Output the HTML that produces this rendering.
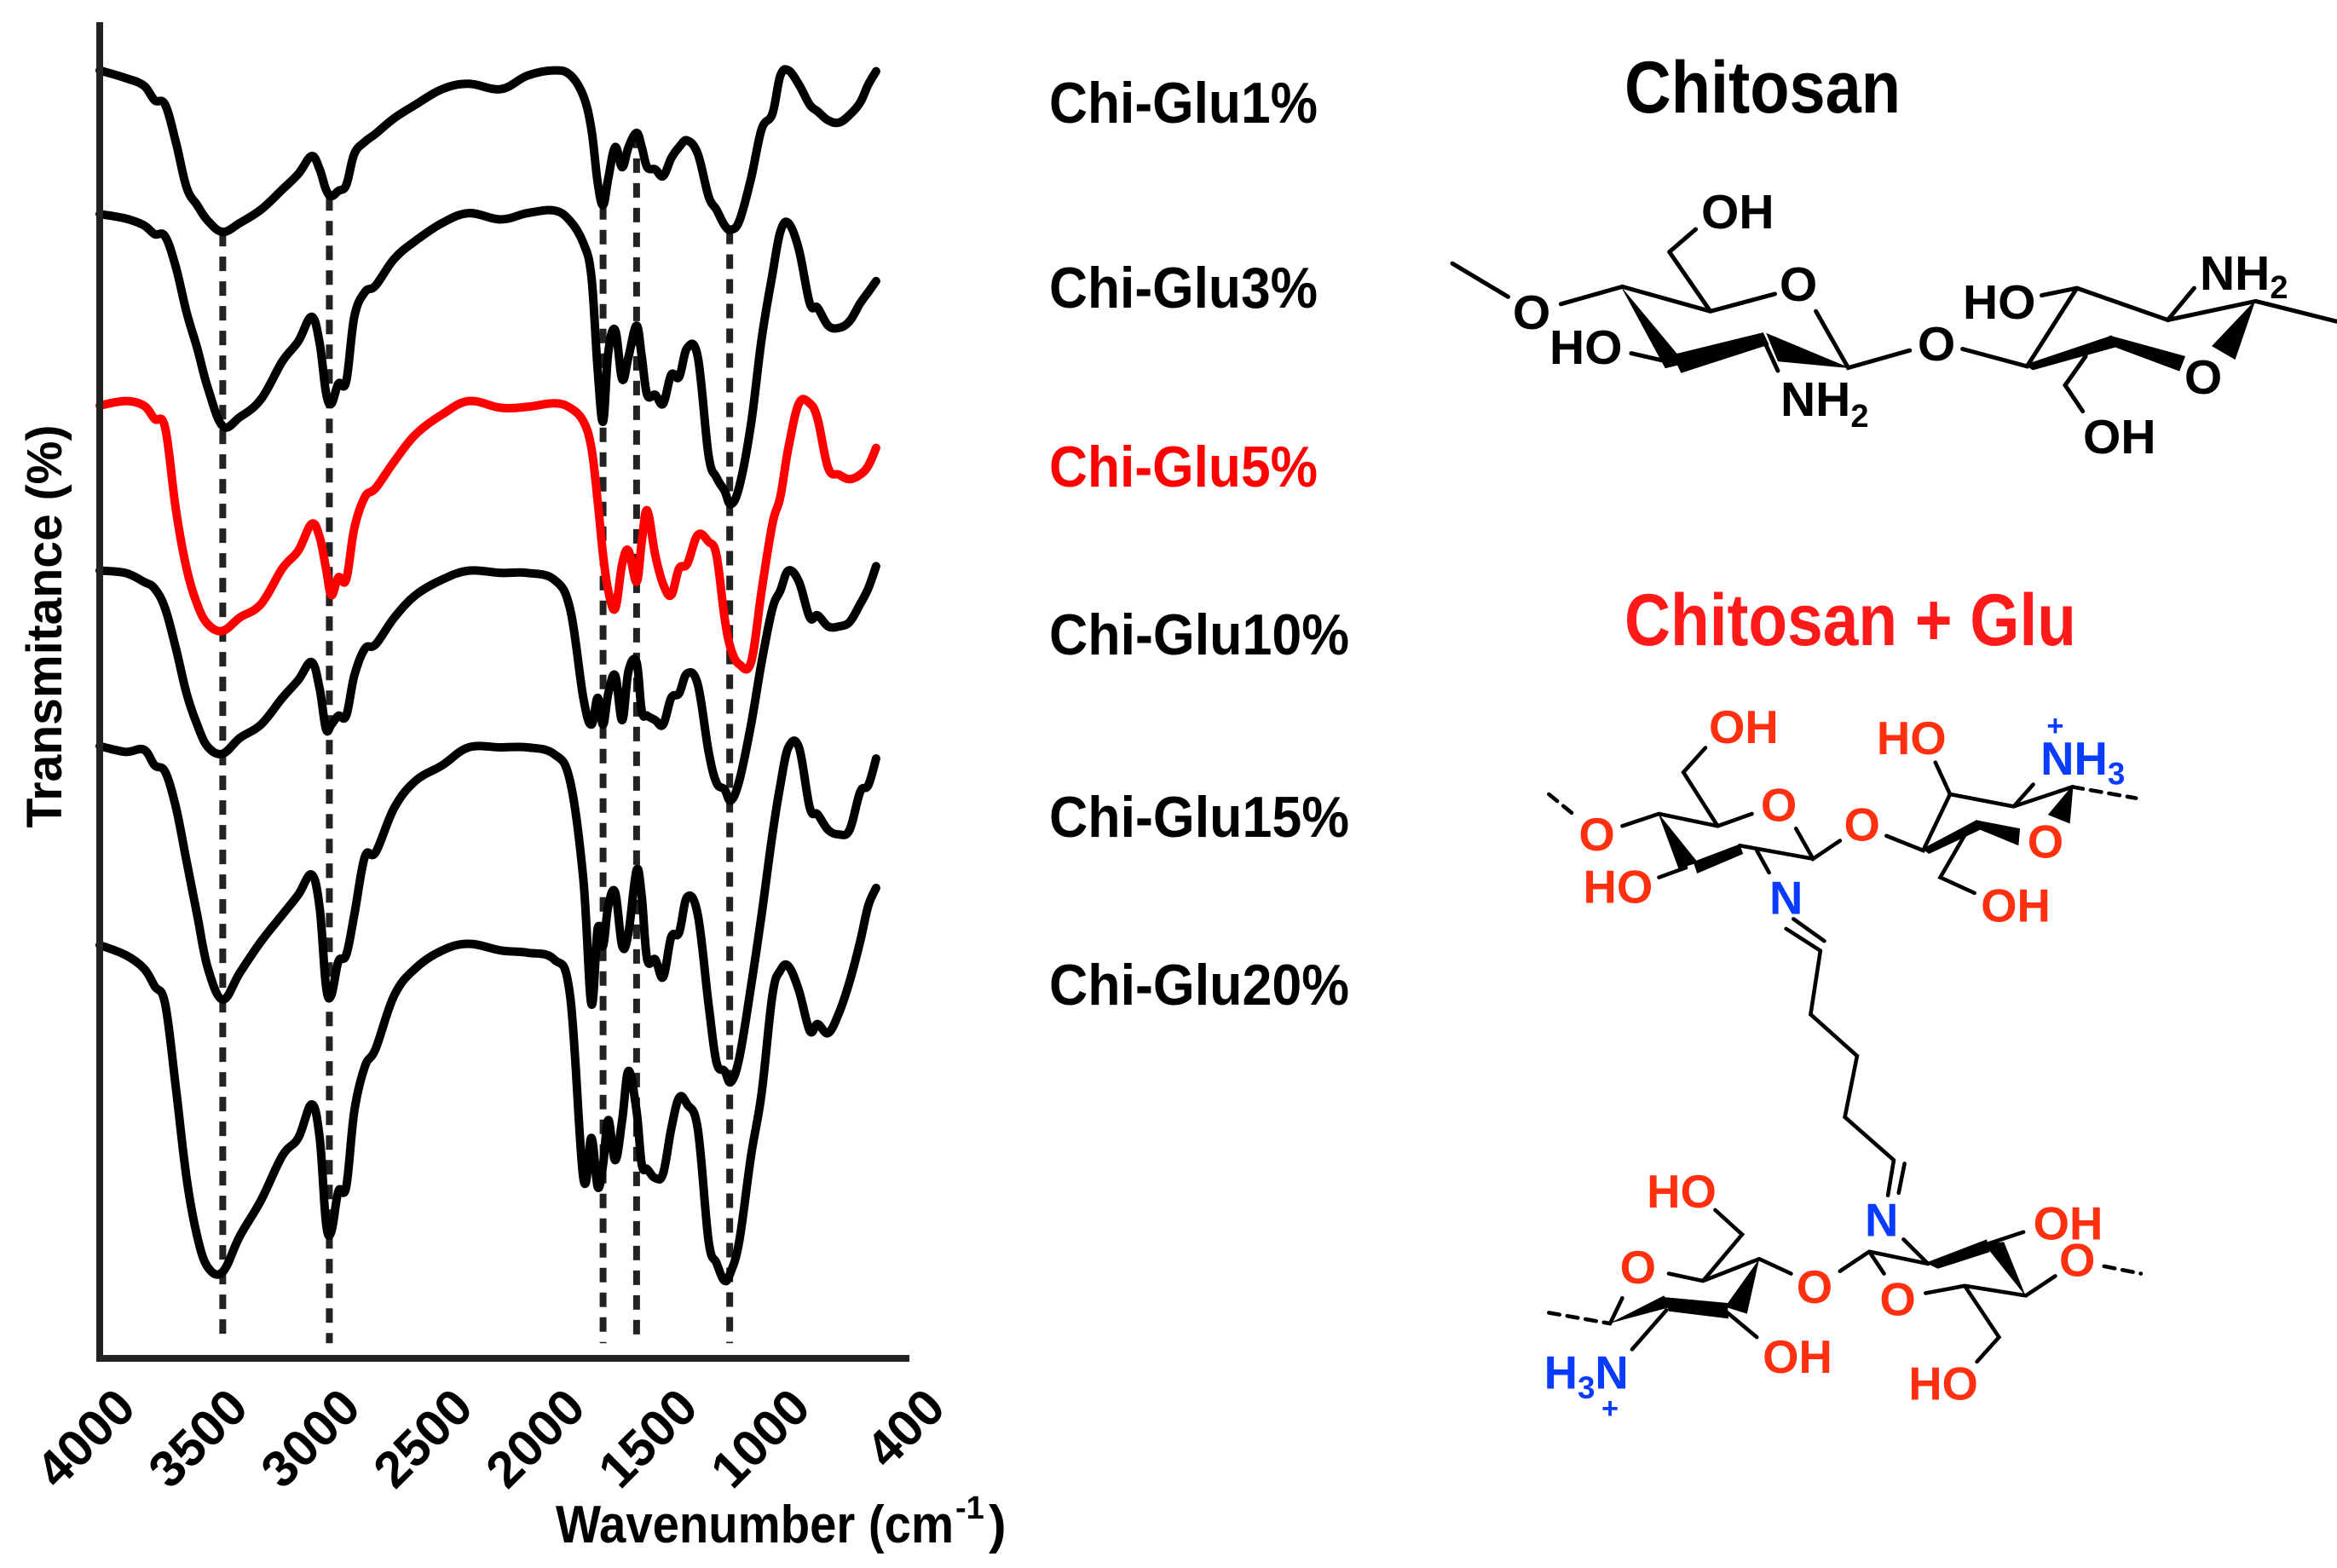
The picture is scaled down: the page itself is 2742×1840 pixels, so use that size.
<!DOCTYPE html>
<html><head><meta charset="utf-8"><style>
html,body{margin:0;padding:0;background:#fff}
svg{display:block}
text{font-family:"Liberation Sans",Arial,sans-serif;font-weight:bold}
</style></head><body>
<svg id="fig" width="2742" height="1840" viewBox="0 0 2742 1840" xmlns="http://www.w3.org/2000/svg">
<rect width="2742" height="1840" fill="#fff"/>
<g id="dashes"></g>
<g id="curves"></g>
<line x1="117" y1="26" x2="117" y2="1598" stroke="#222" stroke-width="8"/>
<line x1="113" y1="1594" x2="1067" y2="1594" stroke="#222" stroke-width="8"/>
<g id="ticks"></g>
<text x="652" y="1810" font-size="62" textLength="467" lengthAdjust="spacingAndGlyphs">Wavenumber (cm</text>
<text x="1121" y="1782" font-size="38">-1</text>
<text x="1160" y="1810" font-size="62">)</text>
<text transform="translate(72,735) rotate(-90)" text-anchor="middle" font-size="58" textLength="473" lengthAdjust="spacingAndGlyphs">Transmitance (%)</text>

<g>
<text x="1231" y="144" font-size="68" textLength="315" lengthAdjust="spacingAndGlyphs">Chi-Glu1%</text>
<text x="1231" y="361" font-size="68" textLength="315" lengthAdjust="spacingAndGlyphs">Chi-Glu3%</text>
<text x="1231" y="571" font-size="68" textLength="315" lengthAdjust="spacingAndGlyphs" fill="#ff0000">Chi-Glu5%</text>
<text x="1231" y="768" font-size="68" textLength="352" lengthAdjust="spacingAndGlyphs">Chi-Glu10%</text>
<text x="1231" y="982" font-size="68" textLength="352" lengthAdjust="spacingAndGlyphs">Chi-Glu15%</text>
<text x="1231" y="1179" font-size="68" textLength="352" lengthAdjust="spacingAndGlyphs">Chi-Glu20%</text>
</g>

<text x="1906" y="132" font-size="86" textLength="324" lengthAdjust="spacingAndGlyphs">Chitosan</text>
<text x="1906" y="757" font-size="86" textLength="530" lengthAdjust="spacingAndGlyphs" fill="#ff1a1a">Chitosan + Glu</text>

<!-- Chitosan structure -->
<g>
<g transform="matrix(0.688,0,0,0.34,1680,180)" stroke="#000" stroke-width="5" fill="none" stroke-linecap="round">
<path vector-effect="non-scaling-stroke" d="M35,380 L130,495 M220,520 L325,460 L475,545 L585,485 M405,340 L475,545 M405,340 L450,262 M340,690 L405,720 M565,640 L590,750 M655,545 L710,740 L815,680 M905,675 L1015,735 L1100,465 M1040,490 L1100,465 L1255,575 L1300,465 M1255,575 L1405,510 L1543,580 M1115,700 L1080,800 L1110,890"/>
<g fill="#000" stroke="none">
<polygon points="322,458 398,742 432,725"/>
<polygon points="410,695 565,618 575,660 425,758"/>
<polygon points="570,620 715,742 590,718"/>
<polygon points="1010,730 1160,628 1168,668 1025,748"/>
<polygon points="1155,628 1285,700 1275,752 1160,665"/>
<polygon points="1405,505 1330,665 1370,712"/>
</g>
</g>
<g font-size="57" fill="#000">
<text x="1797" y="386" text-anchor="middle">O</text>
<text x="2110" y="353" text-anchor="middle">O</text>
<text x="1996" y="268">OH</text>
<text x="1818" y="427">HO</text>
<text x="2089" y="488">NH<tspan font-size="38" dy="13">2</tspan></text>
<text x="2272" y="423" text-anchor="middle">O</text>
<text x="2303" y="374">HO</text>
<text x="2581" y="340">NH<tspan font-size="38" dy="10">2</tspan></text>
<text x="2585" y="462" text-anchor="middle">O</text>
<text x="2444" y="532">OH</text>
</g>
</g>

<!-- Chitosan + Glu structure -->
<g transform="translate(1780,800) scale(0.574)">
<g stroke="#000" stroke-width="8" fill="none" stroke-linecap="round">
<path d="M215,295 L290,270 L410,295 L480,270 M410,295 L340,185 L385,135 M290,400 L345,380 M455,335 L605,362 M490,345 L515,390 M570,300 L605,362 L660,325 M755,315 L830,345 L885,230 L1015,255 M885,230 L855,165 M1015,255 L1055,210 M1015,255 L1135,215 M920,305 L865,400 L935,432"/>
<path d="M620,550 L600,680 L695,765 L670,890 L770,978 M550,505 L620,550 M565,485 L628,530 M770,978 L758,1050 M792,985 L780,1045 M790,1140 L840,1190"/>
<path d="M720,1165 L840,1190 M960,1150 L1035,1125 M1040,1255 L1100,1215 M1040,1255 L915,1235 L835,1250 M915,1235 L985,1340 L940,1390 M720,1165 L750,1210 M720,1165 L660,1205"/>
<path d="M190,1312 L215,1260 M430,1290 L490,1340 M495,1180 L560,1210 M495,1180 L380,1225 L310,1210 M380,1225 L460,1130 L405,1080 M305,1285 L235,1365"/>
<path d="M65,230 L120,275 M1135,215 L1265,238 M1200,1195 L1275,1210 M65,1290 L190,1312" stroke-dasharray="22,16"/>
</g>
<g fill="#000">
<polygon points="288,268 330,382 370,370"/>
<polygon points="360,368 455,332 462,352 368,392"/>
<polygon points="1137,210 1085,272 1130,290"/>
<polygon points="828,342 940,282 948,302 842,352"/>
<polygon points="940,283 1028,300 1025,335 945,302"/>
<polygon points="835,1188 960,1140 966,1166 860,1200"/>
<polygon points="955,1150 995,1145 1040,1257"/>
<polygon points="188,1312 300,1255 315,1278"/>
<polygon points="300,1258 430,1270 432,1302 310,1287"/>
<polygon points="425,1278 470,1292 495,1180"/>
</g>
<g font-size="95" fill="#ff3010">
<text x="392" y="125">OH</text>
<text x="735" y="148">HO</text>
<text x="163" y="345" text-anchor="middle">O</text>
<text x="535" y="285" text-anchor="middle">O</text>
<text x="705" y="325" text-anchor="middle">O</text>
<text x="1080" y="360" text-anchor="middle">O</text>
<text x="135" y="452">HO</text>
<text x="948" y="490">OH</text>
<text x="265" y="1075">HO</text>
<text x="1055" y="1140">OH</text>
<text x="247" y="1230" text-anchor="middle">O</text>
<text x="608" y="1270" text-anchor="middle">O</text>
<text x="1145" y="1215" text-anchor="middle">O</text>
<text x="778" y="1295" text-anchor="middle">O</text>
<text x="502" y="1413">OH</text>
<text x="800" y="1468">HO</text>
</g>
<g fill="#0a3cff">
<text x="1100" y="110" font-size="60" text-anchor="middle">+</text>
<text x="1070" y="190" font-size="95">NH<tspan font-size="64" dy="20">3</tspan></text>
<text x="550" y="475" font-size="95" text-anchor="middle">N</text>
<text x="745" y="1133" font-size="95" text-anchor="middle">N</text>
<text x="55" y="1445" font-size="95">H<tspan font-size="64" dy="20">3</tspan><tspan dy="-20">N</tspan></text>
<text x="190" y="1505" font-size="60" text-anchor="middle">+</text>
</g>
</g>
</svg>
<script>
const wavenumbers = [4000,3886,3804,3756,3709,3661,3614,3567,3519,3453,3377,3283,3188,3117,3058,3022,2994,2970,2939,2904,2868,2821,2773,2690,2596,2477,2359,2217,2099,1980,1909,1850,1814,1786,1762,1739,1708,1677,1649,1613,1590,1566,1530,1495,1459,1424,1388,1341,1293,1258,1222,1194,1156,1104,1057,1009,974,938,891,843,808,761,713,666,619,583,548];
const glu1 = [144.2,142.5,140.8,137.5,136.5,128,118,114,110.5,108,110,113,117.5,121,125,122,117.5,116,117.2,118.5,125.5,128.2,130,133.5,136.5,140,141.2,140,143,144.2,143.2,138.5,131,119,114,120,127,122.5,127,130.2,127,122.5,122,120.5,124.5,127,128.5,125.5,116,113,109.5,108.5,110.5,120,131,134.5,143,144.2,141,136.5,135,133,132.5,134.2,137,141,144];
const glu3 = [112,111,109.5,107.5,107,100,90,82,73,64.5,66.5,70.5,79,83.5,89,83,72,69.5,74,74.5,89,94.5,96,102,106,110,112.2,110.8,112.2,112.8,110.5,105.5,98,77,65.5,81,86,75,80,87,80,71.5,71.5,69.5,76,75.5,82,80,58,53,50,47,51,65,84,98.5,108,110,104,92,91,87,86.5,88,92,94.5,97];
const glu5 = [69.1,70.1,69.1,66.1,64.1,45.6,32.6,24.6,20.1,18.6,21.6,24.6,32.6,36.6,42.6,39.6,32.6,26.6,30.6,30.1,41.6,48.6,50.6,56.6,62.6,67.1,70.1,68.6,68.8,69.6,68.6,65.6,59.6,47.6,35.6,27.6,23.6,33.6,36.6,29.6,38.6,45.6,35.6,29.1,26.6,32.6,33.6,40.1,38.6,35.6,21.6,14.6,11.1,11.6,27.6,42.6,48.6,59.6,69.6,69.6,66.1,55.1,53.6,52.6,53.6,55.6,59.6];
const glu10 = [32.1,31.6,29.6,28.1,23.6,14.6,4.6,-2.4,-7.4,-8.9,-5.4,-2.4,3.6,7.6,11.6,5.6,-3.4,-2.4,-0.4,-0.4,8.6,14.6,15.6,21.6,26.6,30.1,32.1,31.6,31.6,30.1,23.6,3.6,-2.4,3.6,-2.4,4.6,8.6,-1.4,9.6,11.6,0.6,-0.4,-1.4,-2.4,3.6,4.6,9.1,6.6,-8.4,-15.4,-16.9,-19.4,-14.9,-2.4,11.6,23.6,27.6,32.1,29.6,21.6,22.1,19.6,19.6,20.6,24.6,28.1,33.1];
const glu15 = [-7.2,-8.5,-8,-11.5,-13,-21,-33,-45,-57,-64,-58,-51,-45,-40.5,-36,-43.5,-61,-63,-55.5,-54,-45,-32,-31,-21,-15,-11.5,-7.5,-7.5,-7.5,-9,-15,-37,-65,-48,-52,-43,-40,-52,-49,-35,-41,-55,-55,-59,-50,-49,-41,-45,-65,-78,-80,-82.5,-77,-61,-45,-27,-16,-7.5,-7.5,-21,-22.5,-26,-27,-26,-17.5,-16,-10];
const glu20 = [-51.8,-54,-57,-61,-65,-84,-104,-117,-124,-125,-117,-109,-99,-95,-87.5,-95,-114,-116,-107,-106,-89,-79,-75,-63,-57,-53,-51.5,-53,-53.5,-55,-63,-104,-95,-106,-101,-91,-100,-91,-80,-89,-101,-102,-104,-103,-93,-86,-87.5,-93,-118,-123,-127,-125,-118,-99,-85,-63,-57.5,-56.5,-62,-71,-69.5,-71.5,-67,-60,-51,-43,-39];
const seriesNames = ["chi-glu1","chi-glu3","chi-glu5","chi-glu10","chi-glu15","chi-glu20"];
const tickValues = [4000,3500,3000,2500,2000,1500,1000,400];
const tickLabels = ["4000","3500","3000","2500","2000","1500","1000","400"];
const peakWavenumbers = [3453,2979,1762,1613,1199];
const peakTopT = [108,116,114,130,108.5];
const peakBottomT = -141;

const NS = "http://www.w3.org/2000/svg";
function xOf(w){ return 117 + (4000 - w) * (1067 - 117) / 3600; }
function yOf(t){ return 26 + (155 - t) * (1594 - 26) / (155 - (-144.4)); }

function smoothPath(p){
  let d = 'M' + p[0][0].toFixed(1) + ',' + p[0][1].toFixed(1);
  const k = 0.18;
  for (let i = 0; i < p.length - 1; i++) {
    const p0 = p[Math.max(0, i - 1)], p1 = p[i], p2 = p[i + 1], p3 = p[Math.min(p.length - 1, i + 2)];
    const c1x = p1[0] + (p2[0] - p0[0]) * k, c1y = p1[1] + (p2[1] - p0[1]) * k;
    const c2x = p2[0] - (p3[0] - p1[0]) * k, c2y = p2[1] - (p3[1] - p1[1]) * k;
    d += ' C' + c1x.toFixed(1) + ',' + c1y.toFixed(1) + ' ' + c2x.toFixed(1) + ',' + c2y.toFixed(1) + ' ' + p2[0].toFixed(1) + ',' + p2[1].toFixed(1);
  }
  return d;
}

const seriesData = [glu1, glu3, glu5, glu10, glu15, glu20];
const curves = document.getElementById('curves');
seriesData.forEach((vals, i) => {
  const pts = vals.map((v, j) => [xOf(wavenumbers[j]), yOf(v)]);
  const pl = document.createElementNS(NS, 'path');
  pl.setAttribute('d', smoothPath(pts));
  pl.setAttribute('fill', 'none');
  pl.setAttribute('stroke', i === 2 ? '#ff0000' : '#000');
  pl.setAttribute('stroke-width', '10');
  pl.setAttribute('stroke-linejoin', 'round');
  pl.setAttribute('stroke-linecap', 'round');
  
  
  curves.appendChild(pl);
});

const dashes = document.getElementById('dashes');
peakWavenumbers.forEach((w, i) => {
  const ln = document.createElementNS(NS, 'line');
  ln.setAttribute('x1', xOf(w)); ln.setAttribute('x2', xOf(w));
  ln.setAttribute('y1', yOf(peakTopT[i])); ln.setAttribute('y2', yOf(peakBottomT));
  ln.setAttribute('stroke', '#222');
  ln.setAttribute('stroke-width', '8');
  ln.setAttribute('stroke-dasharray', '17,12');
  
  
  dashes.appendChild(ln);
});

const ticks = document.getElementById('ticks');
tickValues.forEach((w, i) => {
  const t = document.createElementNS(NS, 'text');
  const ax = xOf(w) + 45, ay = 1655;
  t.setAttribute('transform', 'translate(' + ax + ',' + ay + ') rotate(-45)');
  t.setAttribute('text-anchor', 'end');
  t.setAttribute('font-size', '60');
  t.textContent = tickLabels[i];
  
  
  ticks.appendChild(t);
});
</script>
</body></html>
